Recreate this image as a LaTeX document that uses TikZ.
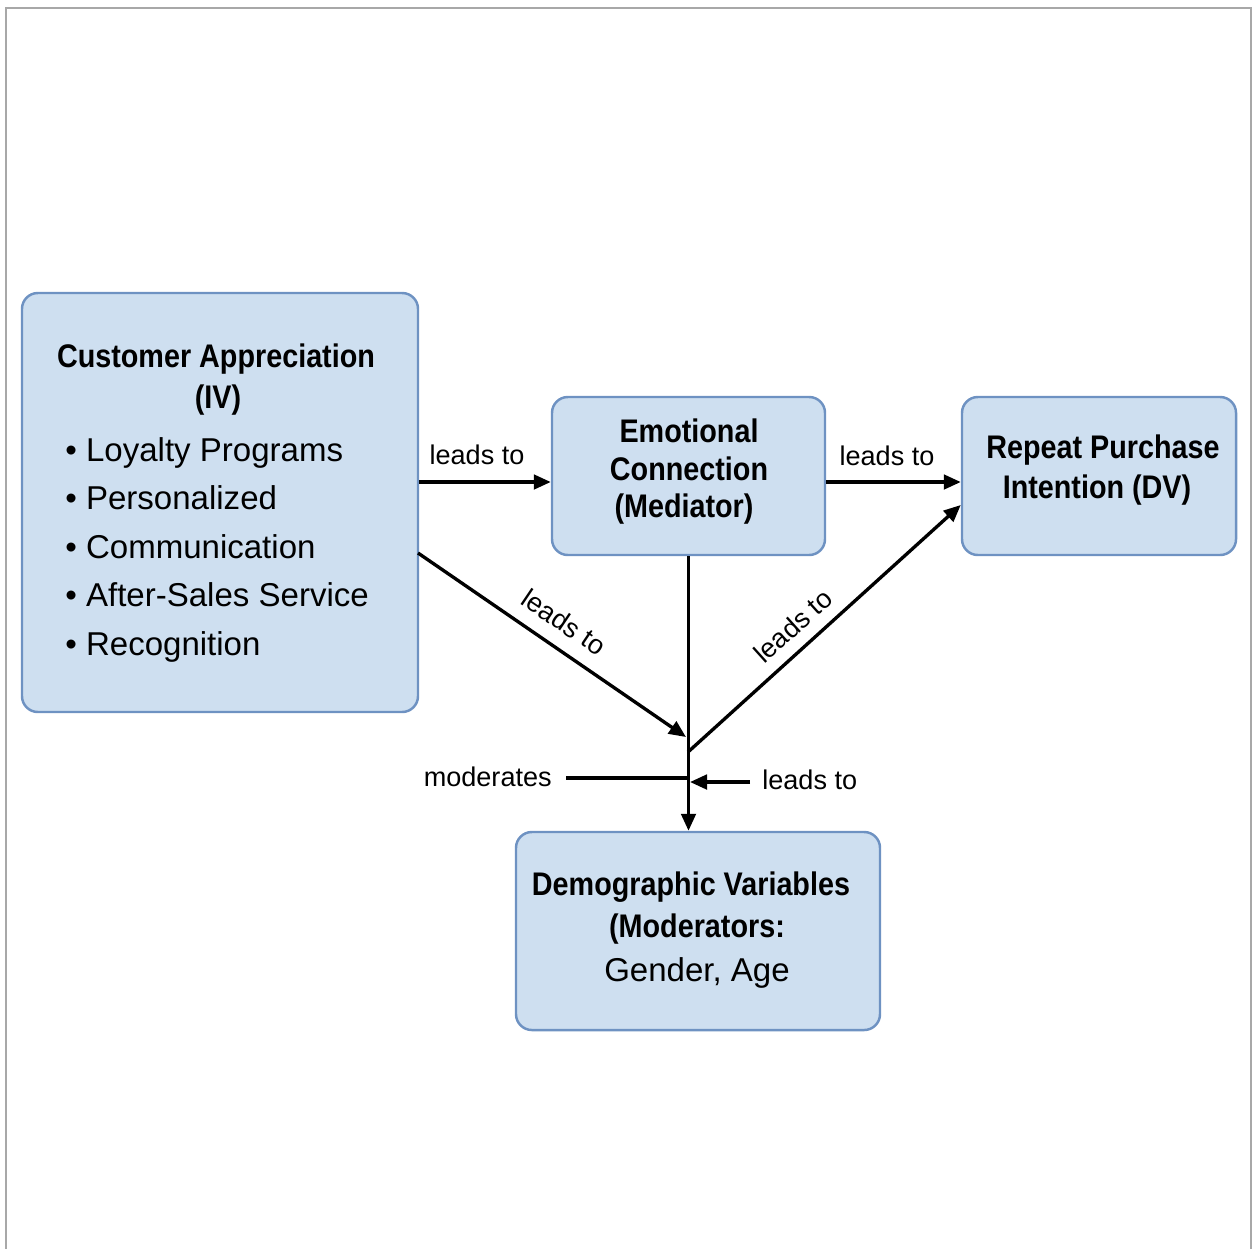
\documentclass[tikz,border=0pt]{standalone}
\usepackage{fontspec}
\setmainfont{Liberation Sans}
\newfontfamily\narrowbold[FakeStretch=0.88]{Liberation Sans Bold}
\usetikzlibrary{arrows.meta}
\definecolor{boxfill}{HTML}{CEDFF0}
\definecolor{boxline}{HTML}{6E92C2}
\definecolor{framegray}{HTML}{A8A8A8}
\tikzset{
  blockbox/.style={draw=boxline, fill=boxfill, line width=1.4pt, rounded corners=9pt},
  ttl/.style={font=\narrowbold\fontsize{18.6}{22}\selectfont, text=black, inner sep=0pt},
  itm/.style={font=\fontsize{18.8}{22}\selectfont, text=black, inner sep=0pt, anchor=base west},
  lbl/.style={font=\fontsize{15.4}{18}\selectfont, text=black, inner sep=0pt},
  conn/.style={line width=1.9pt, draw=black},
  arr/.style={conn, -{Triangle[length=0.34cm,width=0.29cm]}}
}
\begin{document}
\begin{tikzpicture}[x=0.02cm,y=-0.02cm]
\useasboundingbox (0,0) rectangle (1253,1248);
\draw[framegray, line width=0.8pt] (6,1250) -- (6,8) -- (1251,8) -- (1251,1250);
% boxes
\node[blockbox, minimum width=396*0.02cm, minimum height=419*0.02cm] (b1) at (220,502.5) {};
\node[blockbox, minimum width=273*0.02cm, minimum height=158*0.02cm] (b2) at (688.5,476) {};
\node[blockbox, minimum width=274*0.02cm, minimum height=158*0.02cm] (b3) at (1099,476) {};
\node[blockbox, minimum width=364*0.02cm, minimum height=198*0.02cm] (b4) at (698,931) {};
% box texts
\node[ttl] (t1a) at (216,359) {Customer Appreciation};
\node[ttl] (t1b) at (218,400) {(IV)};
\node[itm] (i1) at (65,461) {\textbullet\ Loyalty Programs};
\node[itm] (i2) at (65,509) {\textbullet\ Personalized};
\node[itm] (i3) at (65,558) {\textbullet\ Communication};
\node[itm] (i4) at (65,606) {\textbullet\ After-Sales Service};
\node[itm] (i5) at (65,655) {\textbullet\ Recognition};
\node[ttl] (t2a) at (689,431) {Emotional};
\node[ttl] (t2b) at (689,469) {Connection};
\node[ttl] (t2c) at (684,509) {(Mediator)};
\node[ttl] (t3a) at (1103,450) {Repeat Purchase};
\node[ttl] (t3b) at (1097,490) {Intention (DV)};
\node[ttl] (t4a) at (691,887) {Demographic Variables};
\node[ttl] (t4b) at (697,929) {(Moderators:};
\node[itm, anchor=center] (t4c) at (697,973) {Gender, Age};
% junction coordinates
\coordinate (d1s) at (418,553);
\coordinate (j1) at (686,737);
\coordinate (j2) at (688,752);
\coordinate (m1) at (566,778);
\coordinate (m2) at (688,778);
\coordinate (l1) at (750,782);
\coordinate (l2) at (690,782);
% connectors
\draw[arr] (b1.east |- 0,482) -- (b2.west |- 0,482);
\draw[arr] (b2.east |- 0,482) -- (b3.west |- 0,482);
\draw[arr] (d1s) -- (j1);
\draw[arr] (b2.south) -- (b2.south |- b4.north);
\draw[arr] (j2) -- (b3.west |- 0,505);
\draw[conn] (m1) -- (m2);
\draw[arr] (l1) -- (l2);
% labels
\node[lbl] (la) at (477,455) {leads to};
\node[lbl] (lb) at (887,456) {leads to};
\node[lbl, rotate=-34] (lc) at (564,622) {leads to};
\node[lbl, rotate=42] (ld) at (793,626) {leads to};
\node[lbl, anchor=east] (lm) at (552,777) {moderates};
\node[lbl, anchor=west] (le) at (762,780) {leads to};
\end{tikzpicture}
\end{document}
